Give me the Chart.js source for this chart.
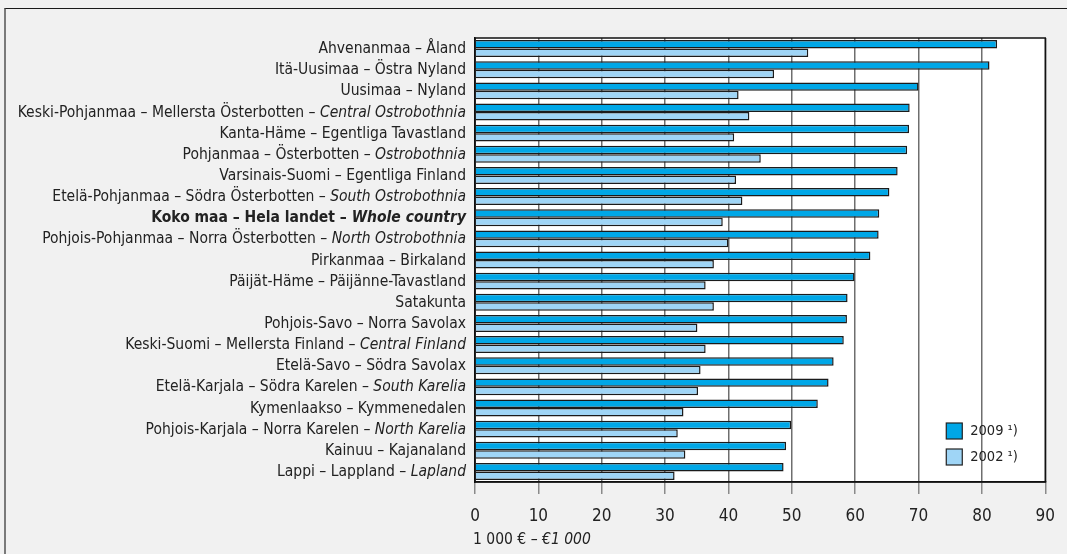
<!DOCTYPE html>
<html>
<head>
<meta charset="utf-8">
<script src="https://cdn.jsdelivr.net/npm/chart.js@4/dist/chart.umd.min.js"></script>
<style>
    html, body { margin: 0; padding: 0; background: #f1f1f1; }
    .frame {
        position: absolute; left: 4px; top: 8px; width: 1070px; height: 560px;
        border-top: 1px solid #1a1a1a; border-left: 2px solid #7a7a7a;
    }
    .chart-box { position: absolute; left: 0; top: 0; width: 1067px; height: 554px; }
</style>
</head>
<body>
<div class="frame"></div>
<div class="chart-box"><canvas id="chart-regions"></canvas></div>

<script>
    const regionNames = [
        'Ahvenanmaa – Åland',
        'Itä-Uusimaa – Östra Nyland',
        'Uusimaa – Nyland',
        'Keski-Pohjanmaa – Mellersta Österbotten – ',
        'Kanta-Häme – Egentliga Tavastland',
        'Pohjanmaa – Österbotten – ',
        'Varsinais-Suomi – Egentliga Finland',
        'Etelä-Pohjanmaa – Södra Österbotten – ',
        'Koko maa – Hela landet – ',
        'Pohjois-Pohjanmaa – Norra Österbotten – ',
        'Pirkanmaa – Birkaland',
        'Päijät-Häme – Päijänne-Tavastland',
        'Satakunta',
        'Pohjois-Savo – Norra Savolax',
        'Keski-Suomi – Mellersta Finland – ',
        'Etelä-Savo – Södra Savolax',
        'Etelä-Karjala – Södra Karelen – ',
        'Kymenlaakso – Kymmenedalen',
        'Pohjois-Karjala – Norra Karelen – ',
        'Kainuu – Kajanaland',
        'Lappi – Lappland – '
    ];
    const regionNamesEn = [
        '', '', '', 'Central Ostrobothnia', '', 'Ostrobothnia', '', 'South Ostrobothnia',
        'Whole country', 'North Ostrobothnia', '', '', '', '', 'Central Finland', '',
        'South Karelia', '', 'North Karelia', '', 'Lapland'
    ];
    const wholeCountryIndex = 8;
    const values2009 = [82.4, 81.2, 70.0, 68.6, 68.5, 68.2, 66.7, 65.4, 63.8, 63.7, 62.4,
                        59.9, 58.8, 58.7, 58.2, 56.6, 55.8, 54.1, 49.9, 49.1, 48.7];
    const values2002 = [52.6, 47.2, 41.6, 43.3, 40.9, 45.1, 41.2, 42.2, 39.1, 40.0, 37.7,
                        36.4, 37.7, 35.1, 36.4, 35.6, 35.2, 32.9, 32.0, 33.2, 31.5];
    const seriesLabels = ['2009 ¹)', '2002 ¹)'];
    const xTicks = [0, 10, 20, 30, 40, 50, 60, 70, 80, 90];
    const unitFi = '1 000 € – ';
    const unitEn = '€1 000';

    const FONT = "'Liberation Sans Narrow', 'DejaVu Sans Condensed', 'Roboto', sans-serif";
    const colour2009 = '#00a7e7';
    const colour2002 = '#9fd5f6';

    // white plot background
    const plotBackground = {
        id: 'plotBackground',
        beforeDraw(chart) {
            const a = chart.chartArea;
            chart.ctx.save();
            chart.ctx.fillStyle = '#ffffff';
            chart.ctx.fillRect(a.left, a.top, a.right - a.left, a.bottom - a.top);
            chart.ctx.restore();
        }
    };

    // labels, legend and unit text need mixed fonts, so they are drawn here
    const textPlugin = {
        id: 'textPlugin',
        afterDraw(chart) {
            const ctx = chart.ctx;
            const area = chart.chartArea;
            const yScale = chart.scales.y;
            ctx.save();
            ctx.strokeStyle = '#111';
            ctx.lineWidth = 1.5;
            ctx.strokeRect(area.left, area.top, area.right - area.left, area.bottom - area.top);

            ctx.fillStyle = '#222';
            ctx.textBaseline = 'middle';
            regionNames.forEach(function (name, i) {
                const y = yScale.getPixelForValue(i) + 0.5;
                let x = area.left - 9;
                const bold = i === wholeCountryIndex ? 'bold ' : '';
                ctx.textAlign = 'right';
                if (regionNamesEn[i]) {
                    ctx.font = 'italic ' + bold + '15.5px ' + FONT;
                    ctx.fillText(regionNamesEn[i], x, y);
                    x -= ctx.measureText(regionNamesEn[i]).width;
                }
                ctx.font = bold + '15.5px ' + FONT;
                ctx.fillText(name, x, y);
            });

            // unit text under the x axis
            ctx.textAlign = 'left';
            ctx.font = '15.5px ' + FONT;
            ctx.fillText(unitFi, area.left - 2, 540);
            const w = ctx.measureText(unitFi).width;
            ctx.font = 'italic 15.5px ' + FONT;
            ctx.fillText(unitEn, area.left - 2 + w, 540);

            // legend in the lower right corner of the plot
            const colours = [colour2009, colour2002];
            seriesLabels.forEach(function (lab, i) {
                const bx = area.right - 99;
                const by = area.bottom - 59 + i * 26;
                ctx.fillStyle = colours[i];
                ctx.fillRect(bx, by, 16, 16);
                ctx.strokeStyle = '#222';
                ctx.lineWidth = 1.2;
                ctx.strokeRect(bx, by, 16, 16);
                ctx.fillStyle = '#222';
                ctx.font = '14.5px ' + FONT;
                ctx.fillText(lab, bx + 24, by + 8.5);
            });
            ctx.restore();
        }
    };

    const data = {
        labels: regionNames,
        datasets: [{
            label: seriesLabels[0],
            data: values2009,
            backgroundColor: colour2009,
            borderColor: '#1b1b1b',
            borderWidth: 1.5
        }, {
            label: seriesLabels[1],
            data: values2002,
            backgroundColor: colour2002,
            borderColor: '#1b1b1b',
            borderWidth: 1.5
        }]
    };

    const config = {
        type: 'bar',
        data: data,
        options: {
            indexAxis: 'y',
            responsive: false,
            animation: false,
            devicePixelRatio: 1,
            categoryPercentage: 0.8,
            barPercentage: 1.0,
            layout: { padding: { top: 38, right: 20, left: 0, bottom: 0 } },
            plugins: {
                legend: { display: false },
                tooltip: { enabled: false }
            },
            scales: {
                x: {
                    min: 0,
                    max: 90,
                    afterBuildTicks: function (scale) {
                        scale.ticks = xTicks.map(function (v) { return { value: v }; });
                    },
                    afterFit: function (scale) { scale.height = 72; },
                    grid: {
                        color: '#6e6e6e',
                        lineWidth: 1.5,
                        tickColor: '#8a8a8a',
                        tickLength: 12
                    },
                    border: { display: true, color: '#111', width: 1.5 },
                    ticks: {
                        color: '#222',
                        padding: 12,
                        font: { family: FONT, size: 17 }
                    }
                },
                y: {
                    afterFit: function (scale) { scale.width = 475; },
                    grid: { display: false },
                    border: { display: true, color: '#111', width: 1.5 },
                    ticks: { display: false }
                }
            }
        },
        plugins: [plotBackground, textPlugin]
    };

    const canvas = document.getElementById('chart-regions');
    canvas.width = 1067;
    canvas.height = 554;
    var chartRegions = new Chart(canvas, config);
</script>
</body>
</html>
